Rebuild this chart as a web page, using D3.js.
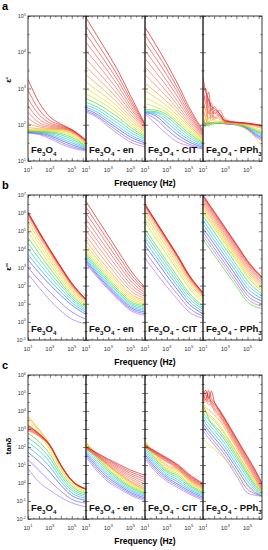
<!DOCTYPE html>
<html>
<head>
<meta charset="utf-8">
<script src="https://cdn.jsdelivr.net/npm/d3@7"></script>
<style>
  body { margin: 0; background: #fff; }
  svg { display: block; font-family: 'Liberation Sans', Arial, sans-serif; }
</style>
</head>
<body>
<div id="chart"></div>
<script>
/* log10(frequency / Hz) sample points */
const logF = [1, 2, 3, 4, 5, 6.3]
const logFP = [1, 1.25, 1.5, 1.75, 2, 2.5, 3, 4, 5, 5.7, 6.3]

const samples = ['Fe3O4', 'Fe3O4 - en', 'Fe3O4 - CIT', 'Fe3O4 - PPh3']
const yTitles = ["ε'", "ε''", 'tanδ']
const xTickExp = [1, 3, 5]

// one colour per temperature curve (hot -> cold)
const palette = ['#e01818', '#e63a36', '#ea4c48', '#ed5c56', '#ef6a60', '#f1785e', '#f38a52',
  '#f6a232', '#f8be26', '#efdc1a', '#bfe21e', '#58d42a', '#2ad68c', '#22d2d8', '#3aa4f2',
  '#3c5cf4', '#8a62f0', '#b474e6']

/* ---- a: log10 eps' ---- */
const epsRe_Fe3O4 = [
  [3.25, 2.62, 2.22, 2.02, 1.87, 1.58], [2.95, 2.42, 2.12, 1.99, 1.86, 1.57],
  [2.72, 2.28, 2.05, 1.96, 1.85, 1.56], [2.52, 2.16, 2.00, 1.94, 1.84, 1.55],
  [2.35, 2.06, 1.96, 1.92, 1.83, 1.54], [2.18, 1.99, 1.93, 1.90, 1.82, 1.53],
  [2.03, 1.94, 1.90, 1.89, 1.81, 1.52], [1.92, 1.89, 1.88, 1.87, 1.79, 1.50],
  [1.87, 1.86, 1.86, 1.85, 1.77, 1.48], [1.85, 1.84, 1.84, 1.83, 1.74, 1.46],
  [1.84, 1.83, 1.82, 1.80, 1.70, 1.44], [1.83, 1.82, 1.80, 1.76, 1.65, 1.42],
  [1.82, 1.81, 1.78, 1.72, 1.60, 1.40], [1.81, 1.80, 1.76, 1.67, 1.55, 1.37],
  [1.80, 1.79, 1.73, 1.62, 1.50, 1.35], [1.79, 1.77, 1.70, 1.57, 1.45, 1.32],
  [1.78, 1.75, 1.66, 1.52, 1.40, 1.30], [1.77, 1.73, 1.62, 1.47, 1.36, 1.28]
]
const epsRe_en = [
  [4.95, 4.45, 3.95, 3.42, 2.80, 2.02], [4.72, 4.25, 3.78, 3.28, 2.70, 2.00],
  [4.50, 4.06, 3.62, 3.15, 2.62, 1.98], [4.28, 3.87, 3.46, 3.02, 2.53, 1.96],
  [4.05, 3.68, 3.30, 2.89, 2.45, 1.93], [3.82, 3.48, 3.14, 2.77, 2.37, 1.90],
  [3.60, 3.30, 2.99, 2.66, 2.29, 1.87], [3.38, 3.12, 2.85, 2.55, 2.21, 1.83],
  [3.18, 2.95, 2.72, 2.45, 2.14, 1.79], [3.00, 2.81, 2.60, 2.36, 2.07, 1.75],
  [2.85, 2.69, 2.49, 2.27, 2.00, 1.71], [2.72, 2.58, 2.39, 2.18, 1.93, 1.67],
  [2.62, 2.49, 2.30, 2.09, 1.86, 1.63], [2.54, 2.42, 2.22, 2.01, 1.79, 1.59],
  [2.48, 2.35, 2.14, 1.93, 1.72, 1.54], [2.43, 2.29, 2.07, 1.86, 1.66, 1.50],
  [2.39, 2.24, 2.01, 1.79, 1.59, 1.45], [2.35, 2.20, 1.95, 1.72, 1.52, 1.39]
]
const epsRe_CIT = [
  [4.69, 4.20, 3.68, 3.12, 2.50, 1.84], [4.48, 4.02, 3.53, 3.00, 2.42, 1.80],
  [4.27, 3.83, 3.37, 2.88, 2.34, 1.77], [4.05, 3.64, 3.21, 2.76, 2.27, 1.74],
  [3.83, 3.45, 3.06, 2.64, 2.20, 1.71], [3.60, 3.26, 2.91, 2.53, 2.13, 1.68],
  [3.38, 3.08, 2.77, 2.43, 2.06, 1.65], [3.15, 2.90, 2.64, 2.34, 2.00, 1.62],
  [2.95, 2.74, 2.52, 2.25, 1.94, 1.59], [2.75, 2.60, 2.42, 2.17, 1.88, 1.56],
  [2.58, 2.49, 2.34, 2.10, 1.83, 1.53], [2.42, 2.40, 2.28, 2.03, 1.77, 1.50],
  [2.38, 2.36, 2.22, 1.96, 1.71, 1.47], [2.36, 2.33, 2.15, 1.88, 1.65, 1.44],
  [2.35, 2.29, 2.07, 1.80, 1.59, 1.41], [2.34, 2.24, 1.98, 1.72, 1.53, 1.38],
  [2.32, 2.15, 1.87, 1.63, 1.47, 1.35], [2.30, 2.02, 1.74, 1.52, 1.42, 1.33]
]
const epsRe_PPh3 = [
  [3.30, 2.90, 2.70, 2.50, 2.45, 2.30, 2.10, 2.07, 2.04, 2.01, 1.98],
  [3.10, 2.60, 2.90, 2.40, 2.50, 2.30, 2.12, 2.07, 2.04, 2.01, 1.98],
  [2.90, 3.00, 2.50, 2.60, 2.30, 2.40, 2.15, 2.06, 2.04, 2.01, 1.97],
  [2.75, 2.40, 2.70, 2.30, 2.40, 2.25, 2.10, 2.06, 2.03, 2.00, 1.97],
  [2.60, 2.80, 2.30, 2.45, 2.20, 2.30, 2.05, 2.06, 2.03, 2.00, 1.96],
  [2.50, 2.20, 2.50, 2.20, 2.35, 2.20, 2.10, 2.05, 2.02, 1.99, 1.95],
  [2.40, 2.60, 2.15, 2.30, 2.15, 2.25, 2.05, 2.05, 2.02, 1.98, 1.93],
  [2.30, 2.00, 2.40, 2.10, 2.20, 2.15, 2.08, 2.05, 2.00, 1.95, 1.90],
  [2.20, 2.40, 2.05, 2.25, 2.10, 2.10, 2.06, 2.04, 1.97, 1.90, 1.84],
  [2.10, 2.20, 2.00, 2.05, 2.05, 2.08, 2.05, 2.00, 1.85, 1.65, 1.40],
  [2.05, 1.95, 2.10, 2.00, 2.04, 2.06, 2.05, 2.03, 1.95, 1.86, 1.80],
  [2.00, 2.15, 1.95, 2.05, 2.03, 2.05, 2.05, 2.03, 1.94, 1.85, 1.78],
  [1.95, 2.00, 2.02, 2.03, 2.03, 2.05, 2.04, 2.02, 1.93, 1.83, 1.75],
  [1.90, 1.97, 2.00, 2.02, 2.03, 2.04, 2.04, 2.02, 1.92, 1.80, 1.72],
  [1.95, 2.00, 2.02, 2.03, 2.04, 2.04, 2.03, 2.01, 1.91, 1.77, 1.68],
  [2.00, 2.03, 2.04, 2.04, 2.04, 2.04, 2.03, 2.00, 1.90, 1.74, 1.64],
  [2.02, 2.04, 2.05, 2.05, 2.05, 2.04, 2.03, 2.00, 1.88, 1.71, 1.60],
  [2.05, 2.05, 2.05, 2.05, 2.05, 2.04, 2.03, 1.99, 1.87, 1.68, 1.56]
]

/* ---- b: log10 eps'' ---- */
const epsIm_Fe3O4 = [
  [6.05, 5.00, 4.00, 3.05, 2.15, 1.25], [6.03, 4.98, 3.98, 3.03, 2.13, 1.24],
  [6.01, 4.96, 3.96, 3.01, 2.11, 1.23], [5.99, 4.94, 3.94, 2.99, 2.09, 1.22],
  [5.97, 4.92, 3.92, 2.97, 2.07, 1.21], [5.94, 4.89, 3.89, 2.94, 2.04, 1.19],
  [5.90, 4.85, 3.85, 2.90, 2.00, 1.17], [5.75, 4.72, 3.74, 2.80, 1.92, 1.12],
  [5.52, 4.52, 3.56, 2.64, 1.80, 1.04], [5.28, 4.30, 3.38, 2.50, 1.69, 0.97],
  [4.98, 4.05, 3.17, 2.34, 1.57, 0.89], [4.66, 3.78, 2.95, 2.17, 1.45, 0.80],
  [4.34, 3.51, 2.73, 2.00, 1.33, 0.71], [4.02, 3.24, 2.51, 1.83, 1.20, 0.62],
  [3.72, 2.98, 2.29, 1.65, 1.07, 0.52], [3.42, 2.71, 2.06, 1.46, 0.93, 0.41],
  [3.00, 2.30, 1.65, 1.05, 0.55, 0.15], [2.64, 1.90, 1.20, 0.60, 0.15, -0.10]
]
const epsIm_en = [
  [6.65, 5.70, 4.75, 3.80, 2.85, 1.90], [6.33, 5.40, 4.48, 3.56, 2.65, 1.80],
  [6.00, 5.10, 4.20, 3.32, 2.46, 1.70], [5.68, 4.80, 3.93, 3.08, 2.27, 1.60],
  [5.36, 4.50, 3.66, 2.85, 2.08, 1.50], [5.05, 4.22, 3.40, 2.62, 1.90, 1.40],
  [4.75, 3.94, 3.15, 2.40, 1.72, 1.30], [4.45, 3.66, 2.90, 2.19, 1.55, 1.20],
  [4.25, 3.47, 2.73, 2.04, 1.43, 1.12], [4.08, 3.31, 2.58, 1.91, 1.32, 1.04],
  [3.93, 3.17, 2.45, 1.79, 1.22, 0.96], [3.80, 3.04, 2.33, 1.68, 1.12, 0.88],
  [3.68, 2.92, 2.22, 1.58, 1.03, 0.80], [3.57, 2.82, 2.12, 1.49, 0.95, 0.72],
  [3.47, 2.72, 2.03, 1.40, 0.87, 0.64], [3.38, 2.63, 1.94, 1.32, 0.79, 0.55],
  [3.30, 2.55, 1.86, 1.24, 0.71, 0.46], [3.22, 2.47, 1.78, 1.16, 0.63, 0.37]
]
const epsIm_CIT = [
  [6.50, 5.55, 4.60, 3.65, 2.62, 1.62], [6.48, 5.53, 4.58, 3.63, 2.60, 1.60],
  [6.46, 5.51, 4.56, 3.61, 2.58, 1.58], [6.44, 5.49, 4.54, 3.59, 2.56, 1.56],
  [6.42, 5.47, 4.52, 3.57, 2.54, 1.54], [6.38, 5.43, 4.48, 3.53, 2.50, 1.51],
  [6.30, 5.36, 4.41, 3.46, 2.44, 1.47], [6.15, 5.22, 4.28, 3.34, 2.34, 1.40],
  [5.95, 5.03, 4.10, 3.18, 2.21, 1.30], [5.72, 4.81, 3.89, 2.99, 2.05, 1.18],
  [5.50, 4.60, 3.70, 2.81, 1.90, 1.07], [5.12, 4.23, 3.35, 2.48, 1.62, 0.88],
  [4.92, 4.04, 3.17, 2.31, 1.48, 0.78], [4.70, 3.83, 2.97, 2.13, 1.33, 0.68],
  [4.47, 3.61, 2.77, 1.95, 1.17, 0.57], [4.22, 3.38, 2.55, 1.75, 1.00, 0.45],
  [3.88, 3.06, 2.26, 1.50, 0.79, 0.32], [3.50, 2.71, 1.94, 1.22, 0.57, 0.20]
]
const epsIm_PPh3 = [
  [7.00, 6.10, 5.20, 4.30, 3.38, 2.48], [6.95, 6.05, 5.15, 4.25, 3.34, 2.44],
  [6.90, 6.00, 5.10, 4.20, 3.30, 2.40], [6.82, 5.92, 5.02, 4.12, 3.22, 2.32],
  [6.74, 5.84, 4.94, 4.04, 3.14, 2.24], [6.64, 5.74, 4.84, 3.94, 3.04, 2.15],
  [6.54, 5.64, 4.74, 3.84, 2.94, 2.06], [6.42, 5.52, 4.62, 3.72, 2.82, 1.96],
  [6.30, 5.40, 4.50, 3.60, 2.70, 1.86], [6.18, 5.28, 4.38, 3.48, 2.58, 1.76],
  [6.08, 5.18, 4.28, 3.38, 2.48, 1.68], [4.55, 3.68, 2.82, 1.96, 1.10, 0.73],
  [5.85, 4.96, 4.06, 3.16, 2.26, 1.55], [5.62, 4.73, 3.84, 2.95, 2.06, 1.42],
  [5.40, 4.51, 3.62, 2.74, 1.86, 1.28], [5.18, 4.30, 3.42, 2.54, 1.66, 1.14],
  [4.96, 4.08, 3.20, 2.33, 1.46, 1.00], [4.75, 3.88, 3.01, 2.14, 1.28, 0.86]
]

/* ---- c: log10 tan(delta) ---- */
const tan_Fe3O4 = [
  [3.20, 2.75, 2.10, 1.00, 0.15, -0.33], [3.15, 2.73, 2.10, 1.00, 0.15, -0.33],
  [3.10, 2.70, 2.09, 1.00, 0.15, -0.33], [3.05, 2.68, 2.08, 0.99, 0.14, -0.33],
  [3.00, 2.65, 2.07, 0.98, 0.13, -0.34], [2.95, 2.62, 2.06, 0.97, 0.12, -0.35],
  [2.90, 2.60, 2.05, 0.95, 0.10, -0.36], [3.70, 3.00, 2.15, 1.00, 0.15, -0.33],
  [3.60, 2.92, 2.08, 0.95, 0.10, -0.38], [3.45, 2.80, 1.98, 0.86, 0.02, -0.45],
  [3.30, 2.65, 1.85, 0.75, -0.07, -0.52], [2.75, 2.30, 1.60, 0.58, -0.18, -0.60],
  [2.50, 2.05, 1.38, 0.42, -0.30, -0.68], [2.25, 1.80, 1.15, 0.25, -0.42, -0.76],
  [2.00, 1.52, 0.90, 0.08, -0.55, -0.85], [1.70, 1.20, 0.60, -0.12, -0.70, -0.96],
  [1.30, 0.70, 0.10, -0.45, -0.90, -1.12], [0.80, 0.05, -0.40, -0.80, -1.10, -1.33]
]
const tan_en = [
  [2.02, 1.67, 1.33, 1.02, 0.72, 0.43], [2.00, 1.63, 1.27, 0.94, 0.62, 0.31],
  [1.98, 1.59, 1.21, 0.86, 0.52, 0.19], [1.96, 1.55, 1.15, 0.78, 0.42, 0.07],
  [1.94, 1.51, 1.09, 0.70, 0.32, -0.05], [1.92, 1.47, 1.03, 0.62, 0.22, -0.17],
  [1.90, 1.43, 0.97, 0.54, 0.12, -0.28], [2.20, 1.60, 1.00, 0.50, 0.06, -0.35],
  [2.25, 1.58, 0.96, 0.45, 0.00, -0.40], [2.27, 1.55, 0.90, 0.38, -0.06, -0.45],
  [2.22, 1.48, 0.82, 0.30, -0.13, -0.50], [2.15, 1.40, 0.74, 0.22, -0.20, -0.55],
  [2.00, 1.28, 0.64, 0.14, -0.27, -0.61], [1.88, 1.15, 0.53, 0.06, -0.35, -0.67],
  [1.76, 1.02, 0.42, -0.04, -0.43, -0.74], [1.65, 0.90, 0.30, -0.13, -0.52, -0.82],
  [1.55, 0.78, 0.18, -0.22, -0.60, -0.90], [1.45, 0.65, 0.06, -0.32, -0.68, -0.98]
]
const tan_CIT = [
  [2.10, 1.75, 1.40, 1.02, 0.50, -0.02], [2.08, 1.72, 1.36, 0.98, 0.45, -0.06],
  [2.06, 1.69, 1.32, 0.94, 0.40, -0.10], [2.04, 1.66, 1.28, 0.90, 0.36, -0.14],
  [2.02, 1.63, 1.24, 0.86, 0.32, -0.18], [2.00, 1.60, 1.20, 0.82, 0.28, -0.22],
  [1.98, 1.57, 1.16, 0.78, 0.24, -0.26], [2.20, 1.60, 1.00, 0.75, 0.20, -0.30],
  [2.28, 1.55, 0.90, 0.70, 0.14, -0.35], [2.35, 1.50, 0.82, 0.62, 0.08, -0.40],
  [2.30, 1.40, 0.75, 0.52, 0.00, -0.46], [2.20, 1.30, 0.68, 0.42, -0.08, -0.52],
  [2.05, 1.18, 0.60, 0.30, -0.16, -0.58], [1.90, 1.06, 0.50, 0.18, -0.25, -0.65],
  [1.75, 0.95, 0.40, 0.06, -0.34, -0.72], [1.60, 0.83, 0.30, -0.06, -0.43, -0.80],
  [1.47, 0.72, 0.20, -0.16, -0.52, -0.88], [1.35, 0.60, 0.10, -0.26, -0.60, -0.97]
]
const tan_PPh3 = [
  [4.90, 5.15, 4.70, 5.10, 4.55, 4.05, 3.55, 2.50, 1.45, 0.72, 0.00],
  [5.10, 4.60, 5.15, 4.70, 4.50, 4.00, 3.50, 2.45, 1.40, 0.66, -0.05],
  [4.70, 5.05, 4.80, 4.50, 4.40, 3.95, 3.45, 2.38, 1.32, 0.58, -0.12],
  [4.85, 4.70, 5.00, 4.40, 4.30, 3.88, 3.38, 2.30, 1.24, 0.50, -0.20],
  [4.60, 4.90, 4.50, 4.60, 4.20, 3.80, 3.30, 2.22, 1.16, 0.42, -0.27],
  [4.75, 4.50, 4.75, 4.30, 4.10, 3.72, 3.22, 2.14, 1.08, 0.34, -0.34],
  [4.50, 4.65, 4.35, 4.35, 4.00, 3.64, 3.14, 2.06, 1.00, 0.26, -0.40],
  [4.40, 4.20, 4.05, 3.95, 3.80, 3.45, 3.00, 1.95, 0.90, 0.20, -0.42],
  [4.30, 4.00, 3.85, 3.70, 3.55, 3.20, 2.75, 1.75, 0.75, 0.10, -0.45],
  [2.45, 2.30, 2.15, 2.02, 1.90, 1.60, 1.30, 0.60, -0.20, -0.50, -0.65],
  [4.20, 3.90, 3.75, 3.60, 3.45, 3.10, 2.65, 1.70, 0.70, 0.00, -0.45],
  [4.30, 4.00, 3.60, 3.35, 3.20, 2.90, 2.50, 1.55, 0.55, -0.10, -0.50],
  [3.95, 3.70, 3.50, 3.30, 3.10, 2.75, 2.35, 1.40, 0.45, -0.20, -0.55],
  [3.75, 3.50, 3.30, 3.10, 2.92, 2.55, 2.15, 1.22, 0.30, -0.30, -0.60],
  [3.55, 3.30, 3.10, 2.90, 2.72, 2.35, 1.95, 1.02, 0.10, -0.40, -0.65],
  [3.35, 3.10, 2.90, 2.70, 2.52, 2.15, 1.75, 0.82, -0.10, -0.52, -0.70],
  [3.15, 2.90, 2.70, 2.50, 2.32, 1.95, 1.55, 0.60, -0.35, -0.60, -0.72],
  [2.95, 2.70, 2.50, 2.30, 2.12, 1.75, 1.35, 0.40, -0.55, -0.68, -0.75]
]

const rowData = [
  [epsRe_Fe3O4, epsRe_en, epsRe_CIT, epsRe_PPh3],
  [epsIm_Fe3O4, epsIm_en, epsIm_CIT, epsIm_PPh3],
  [tan_Fe3O4, tan_en, tan_CIT, tan_PPh3]
]

/* Canvas */
const W = 268, H = 550
const svg = d3.select('#chart').append('svg').attr('width', W).attr('height', H)

const colX = [28, 86, 145, 203, 262]
const rows = [
  { top: 16, bottom: 161, lo: 1, hi: 5, letter: 'a', titleY: 80 },
  { top: 195, bottom: 340, lo: -1, hi: 7, letter: 'b', titleY: 267 },
  { top: 375, bottom: 519, lo: -2, hi: 6, letter: 'c', titleY: 446 }
]

// "10" with a superscript exponent
function powerLabel(sel, exp, size) {
  sel.append('tspan').text('10')
  sel.append('tspan').attr('dy', -size * 0.45).attr('font-size', size * 0.7).text(exp)
}

// digits rendered as subscripts
function sampleLabel(sel, str, size) {
  let shifted = false
  str.split(/(\d)/).filter(s => s).forEach(part => {
    const isSub = /\d/.test(part)
    const t = sel.append('tspan').text(part)
    if (isSub && !shifted) { t.attr('dy', size * 0.3); shifted = true }
    if (!isSub && shifted) { t.attr('dy', -size * 0.3); shifted = false }
    if (isSub) t.attr('font-size', size * 0.65)
  })
}

const line = d3.line().curve(d3.curveMonotoneX)

rows.forEach((row, r) => {
  const y = d3.scaleLog().domain([10 ** row.lo, 10 ** row.hi]).range([row.bottom, row.top])
  const decades = d3.range(row.lo, row.hi + 1)
  const halfDecades = d3.range(row.lo, row.hi).map(d => 10 ** (d + 0.5))

  samples.forEach((name, c) => {
    const x0 = colX[c], x1 = colX[c + 1]
    const x = d3.scaleLog().domain([10, 2e6]).range([x0, x1])
    const freqs = c === 3 && r !== 1 ? logFP : logF
    const curves = rowData[r][c]

    const clipId = `clip-${r}-${c}`
    svg.append('clipPath').attr('id', clipId)
      .append('rect').attr('x', x0).attr('y', row.top).attr('width', x1 - x0).attr('height', row.bottom - row.top)

    const $g = svg.append('g').attr('clip-path', `url(#${clipId})`)
    // cold curves first so the hot ones sit on top
    curves.map((vals, i) => ({ vals, i })).reverse().forEach(({ vals, i }) => {
      const pts = freqs.map((lf, k) => [x(10 ** lf), y(10 ** vals[k])])
      $g.append('path')
        .attr('d', line(pts))
        .attr('fill', 'none')
        .attr('stroke', palette[i])
        .attr('stroke-width', 0.7)
    })

    /* Axes - inward ticks on all four sides */
    const xMajor = d3.range(1, 7).map(d => 10 ** d)
    const xMinor = d3.range(1, 6).map(d => 10 ** (d + 0.5))
    const axes = [
      [d3.axisBottom(x).tickValues(xMajor).tickSize(-3), `translate(0,${row.bottom})`],
      [d3.axisBottom(x).tickValues(xMinor).tickSize(-1.5), `translate(0,${row.bottom})`],
      [d3.axisTop(x).tickValues(xMajor).tickSize(-3), `translate(0,${row.top})`],
      [d3.axisTop(x).tickValues(xMinor).tickSize(-1.5), `translate(0,${row.top})`],
      [d3.axisLeft(y).tickValues(decades.map(d => 10 ** d)).tickSize(-3), `translate(${x0},0)`],
      [d3.axisLeft(y).tickValues(halfDecades).tickSize(-1.5), `translate(${x0},0)`],
      [d3.axisRight(y).tickValues(decades.map(d => 10 ** d)).tickSize(-3), `translate(${x1},0)`],
      [d3.axisRight(y).tickValues(halfDecades).tickSize(-1.5), `translate(${x1},0)`]
    ]
    axes.forEach(([ax, tr]) => {
      const $a = svg.append('g').attr('transform', tr).call(ax.tickFormat('').tickSizeOuter(0))
      $a.select('.domain').remove()
      $a.selectAll('line').attr('stroke', '#222').attr('stroke-width', 0.6)
    })
    svg.append('rect')
      .attr('x', x0).attr('y', row.top).attr('width', x1 - x0).attr('height', row.bottom - row.top)
      .attr('fill', 'none').attr('stroke', '#222').attr('stroke-width', 0.9)

    // x tick labels
    xTickExp.forEach(e => {
      const $t = svg.append('text')
        .attr('x', x(10 ** e)).attr('y', row.bottom + 11)
        .attr('text-anchor', 'middle').attr('font-size', 6).attr('fill', '#333')
      powerLabel($t, e, 6)
    })

    // sample label
    const $s = svg.append('text')
      .attr('x', x0 + 3).attr('y', row.bottom - 8)
      .attr('font-size', 9.5).attr('font-weight', 'bold').attr('fill', '#111')
    sampleLabel($s, name, 9.5)
  })

  // y tick labels
  decades.forEach(d => {
    const $t = svg.append('text')
      .attr('x', colX[0] - 2).attr('y', y(10 ** d) + 2)
      .attr('text-anchor', 'end').attr('font-size', 5.5).attr('fill', '#333')
    powerLabel($t, d, 5.5)
  })

  // y title
  svg.append('text')
    .attr('transform', `translate(11,${row.titleY}) rotate(-90)`)
    .attr('text-anchor', 'middle').attr('font-size', 8).attr('font-weight', 'bold')
    .text(yTitles[r])

  // x title
  svg.append('text')
    .attr('x', 145).attr('y', row.bottom + 25)
    .attr('text-anchor', 'middle').attr('font-size', 8.5).attr('font-weight', 'bold')
    .text('Frequency (Hz)')

  // panel letter
  svg.append('text')
    .attr('x', 2).attr('y', row.top - 6)
    .attr('font-size', 11).attr('font-weight', 'bold')
    .text(row.letter)
})
</script>
</body>
</html>
